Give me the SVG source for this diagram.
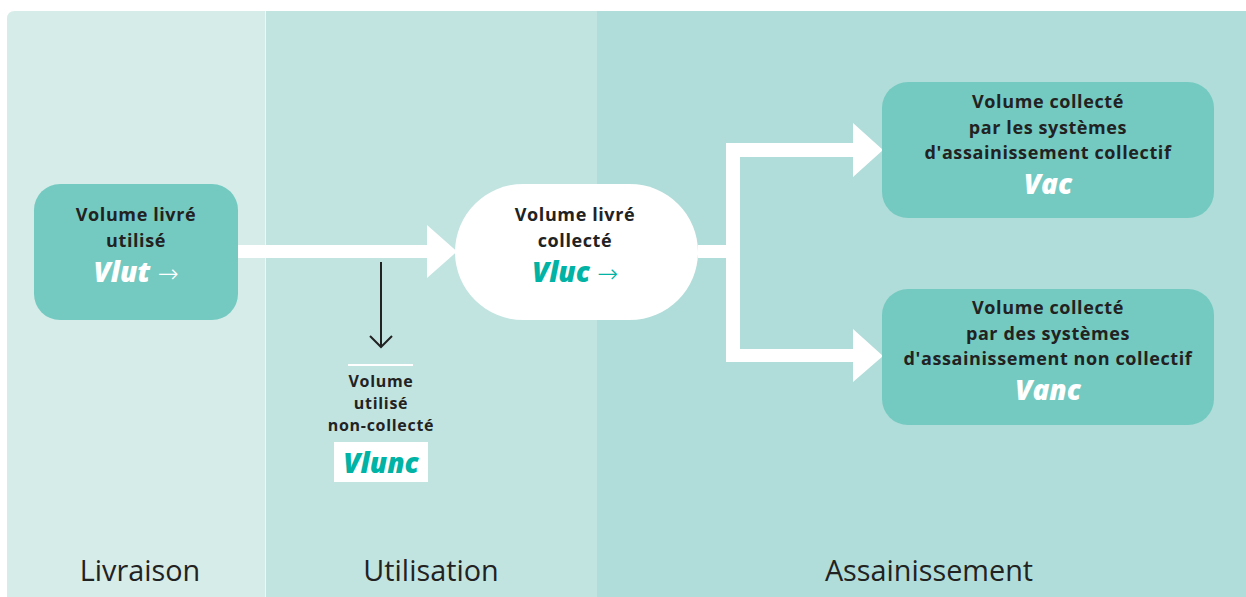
<svg xmlns="http://www.w3.org/2000/svg" width="1246" height="597" viewBox="0 0 1246 597">
<style>
.lbl{font-family:"Open Sans","Noto Sans","DejaVu Sans",sans-serif;font-weight:bold;font-size:18px;letter-spacing:0.6px;fill:#222;text-anchor:middle}
.sm{font-size:16px;letter-spacing:0.7px}
.var{font-family:"Open Sans","Noto Sans","DejaVu Sans",sans-serif;font-weight:800;font-style:italic;font-size:28px;text-anchor:middle}
.arr{font-family:"DejaVu Sans",sans-serif;font-weight:200;font-style:normal;font-size:25px}
.w{fill:#fff}
.t{fill:#00b3a4}
.phase{font-family:"Open Sans","Noto Sans","DejaVu Sans",sans-serif;font-weight:500;font-size:28.8px;fill:#222;text-anchor:middle}
.node{fill:#74cac1}
</style>
<rect width="1246" height="597" fill="#fff"/>
<g id="panels">
<path d="M7 19 Q7 11 15 11 H266 V597 H7 Z" fill="#d6ece9"/>
<rect x="266" y="11" width="331" height="586" fill="#c2e4e1"/>
<rect x="597" y="11" width="649" height="586" fill="#b0ddd9"/>
<line x1="265.5" y1="11" x2="265.5" y2="597" stroke="#eef7f6" stroke-width="1"/>
<text class="phase" x="140" y="581">Livraison</text>
<text class="phase" x="431" y="581">Utilisation</text>
<text class="phase" x="929" y="581">Assainissement</text>
</g>
<g id="connectors">
<polygon class="w" points="238,245 427,245 427,225 457,251.5 427,278 427,258 238,258"/>
<polygon class="w" points="698,245 726,245 726,143 853,143 853,123 883,150 853,177 853,157 740,157 740,349 853,349 853,329 883,356 853,382 853,362 726,362 726,258 698,258"/>
<line x1="381" y1="262" x2="381" y2="347" stroke="#222" stroke-width="2"/>
<polyline points="370,336 381,347 392,336" fill="none" stroke="#222" stroke-width="2"/>
</g>
<g id="vlut">
<rect class="node" x="34" y="184" width="204" height="136" rx="26"/>
<text class="lbl" x="136" y="221">Volume livré</text>
<text class="lbl" x="136" y="247">utilisé</text>
<text class="var w" x="136" y="282">Vlut <tspan class="arr">→</tspan></text>
</g>
<g id="vluc">
<rect x="455" y="184" width="243" height="136" rx="68" fill="#fff"/>
<text class="lbl" x="575" y="221">Volume livré</text>
<text class="lbl" x="575" y="247">collecté</text>
<text class="var t" x="575" y="282">Vluc <tspan class="arr">→</tspan></text>
</g>
<g id="vlunc">
<line x1="348" y1="365" x2="413" y2="365" stroke="#fff" stroke-width="2"/>
<text class="lbl sm" x="381" y="387">Volume</text>
<text class="lbl sm" x="381" y="409">utilisé</text>
<text class="lbl sm" x="381" y="431">non-collecté</text>
<rect x="334" y="442" width="94" height="40" fill="#fff"/>
<text class="var t" x="381" y="473">Vlunc</text>
</g>
<g id="vac">
<rect class="node" x="882" y="82" width="332" height="136" rx="26"/>
<text class="lbl" x="1048" y="108">Volume collecté</text>
<text class="lbl" x="1048" y="134">par les systèmes</text>
<text class="lbl" x="1048" y="159">d'assainissement collectif</text>
<text class="var w" x="1048" y="194">Vac</text>
</g>
<g id="vanc">
<rect class="node" x="882" y="289" width="332" height="136" rx="26"/>
<text class="lbl" x="1048" y="314">Volume collecté</text>
<text class="lbl" x="1048" y="340">par des systèmes</text>
<text class="lbl" x="1048" y="365">d'assainissement non collectif</text>
<text class="var w" x="1048" y="400">Vanc</text>
</g>
</svg>
